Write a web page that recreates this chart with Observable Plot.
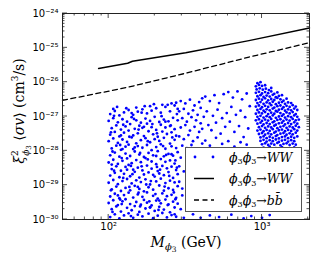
<!DOCTYPE html>
<html>
<head>
<meta charset="utf-8">
<script src="https://cdn.jsdelivr.net/npm/d3@7"></script>
<script src="https://cdn.jsdelivr.net/npm/@observablehq/plot@0.6"></script>
<style>
html,body{margin:0;padding:0;background:#fff;}
#chart svg{display:block;}
</style>
</head>
<body>
<div id="chart"></div>
<script>
// ---- data ----
// solid line: phi3 phi3 -> WW limit (mass in GeV, log10 of <sigma v>)
const solidMass = [86, 133, 143, 318, 822, 2040];
const solidLog  = [-25.60, -25.45, -25.39, -25.14, -24.79, -24.42];
// dashed line: phi3 phi3 -> b bbar limit
const dashedMass = [50, 133, 318, 822, 2040];
const dashedLog  = [-26.53, -26.15, -25.74, -25.27, -24.85];
// scan points: [log10 M, log10 (xi^2 <sigma v>)]
const scanPoints = [
2.01,-29.93,2.04,-29.85,2.07,-29.97,2.10,-29.88,2.13,-29.82,2.16,-29.95,2.19,-29.86,2.22,-29.91,2.26,-29.83,2.29,-29.96,2.32,-29.89,2.35,-29.81,2.38,-29.94,2.41,-29.87,2.44,-29.92,
2.02,-29.70,2.05,-29.62,2.08,-29.77,2.12,-29.66,2.15,-29.73,2.17,-29.61,2.20,-29.78,2.24,-29.68,2.27,-29.64,2.30,-29.75,2.33,-29.63,2.36,-29.71,2.40,-29.79,2.43,-29.65,
2.00,-29.52,2.03,-29.44,2.06,-29.58,2.09,-29.47,2.11,-29.41,2.14,-29.55,2.18,-29.49,2.21,-29.57,2.23,-29.43,2.25,-29.51,2.28,-29.59,2.31,-29.45,2.34,-29.53,2.37,-29.42,2.39,-29.56,2.42,-29.48,2.45,-29.54,
2.01,-29.33,2.04,-29.25,2.07,-29.38,2.10,-29.29,2.13,-29.22,2.16,-29.36,2.19,-29.27,2.22,-29.34,2.25,-29.21,2.29,-29.31,2.32,-29.39,2.35,-29.24,2.38,-29.32,2.41,-29.28,2.44,-29.37,
2.02,-29.12,2.05,-29.04,2.08,-29.17,2.11,-29.08,2.14,-29.15,2.17,-29.02,2.20,-29.11,2.23,-29.18,2.26,-29.06,2.29,-29.13,2.33,-29.01,2.36,-29.16,2.39,-29.09,2.42,-29.14,2.45,-29.03,
2.00,-28.93,2.03,-28.85,2.06,-28.97,2.09,-28.88,2.12,-28.82,2.15,-28.95,2.18,-28.86,2.21,-28.91,2.24,-28.83,2.27,-28.98,2.31,-28.89,2.34,-28.81,2.37,-28.94,2.40,-28.87,2.43,-28.92,
2.01,-28.72,2.04,-28.64,2.07,-28.77,2.10,-28.67,2.14,-28.74,2.17,-28.61,2.20,-28.78,2.23,-28.69,2.26,-28.63,2.30,-28.75,2.33,-28.66,2.36,-28.71,2.39,-28.62,2.42,-28.79,2.45,-28.68,
2.02,-28.53,2.05,-28.45,2.08,-28.58,2.11,-28.47,2.13,-28.41,2.16,-28.55,2.19,-28.49,2.22,-28.57,2.25,-28.43,2.28,-28.52,2.32,-28.59,2.35,-28.44,2.38,-28.51,2.41,-28.46,2.44,-28.56,
2.00,-28.34,2.03,-28.26,2.06,-28.38,2.09,-28.29,2.12,-28.22,2.15,-28.36,2.18,-28.27,2.21,-28.33,2.24,-28.21,2.28,-28.31,2.31,-28.39,2.34,-28.24,2.37,-28.32,2.40,-28.28,2.43,-28.37,
2.01,-28.13,2.04,-28.05,2.07,-28.17,2.11,-28.08,2.14,-28.15,2.17,-28.02,2.20,-28.11,2.23,-28.18,2.26,-28.06,2.29,-28.13,2.32,-28.01,2.36,-28.16,2.39,-28.09,2.42,-28.14,2.45,-28.04,
2.02,-27.93,2.05,-27.85,2.08,-27.97,2.11,-27.88,2.13,-27.82,2.16,-27.95,2.19,-27.86,2.22,-27.91,2.25,-27.83,2.28,-27.98,2.31,-27.89,2.34,-27.81,2.37,-27.94,2.41,-27.87,2.44,-27.92,
2.00,-27.72,2.03,-27.64,2.06,-27.77,2.09,-27.67,2.12,-27.74,2.15,-27.61,2.18,-27.78,2.21,-27.69,2.24,-27.63,2.27,-27.75,2.30,-27.66,2.33,-27.71,2.36,-27.62,2.40,-27.79,2.43,-27.68,
2.01,-27.53,2.04,-27.45,2.07,-27.58,2.10,-27.47,2.13,-27.41,2.16,-27.55,2.19,-27.49,2.23,-27.57,2.26,-27.43,2.29,-27.52,2.32,-27.59,2.35,-27.44,2.38,-27.51,2.41,-27.46,2.44,-27.56,
2.02,-27.34,2.05,-27.26,2.08,-27.38,2.11,-27.29,2.14,-27.22,2.17,-27.36,2.20,-27.27,2.22,-27.33,2.25,-27.21,2.28,-27.31,2.31,-27.39,2.34,-27.24,2.37,-27.32,2.40,-27.28,2.43,-27.37,
2.00,-27.13,2.03,-27.05,2.06,-27.17,2.09,-27.08,2.12,-27.15,2.15,-27.02,2.18,-27.11,2.21,-27.18,2.24,-27.06,2.27,-27.13,2.30,-27.01,2.33,-27.16,2.36,-27.09,2.39,-27.14,2.42,-27.04,2.45,-27.11,
2.01,-26.93,2.04,-26.84,2.07,-26.97,2.10,-26.88,2.13,-26.81,2.16,-26.95,2.19,-26.86,2.22,-26.79,2.25,-26.91,2.28,-26.83,2.31,-26.76,2.34,-26.89,2.37,-26.72,2.40,-26.85,2.43,-26.68,2.45,-26.78,
2.03,-26.78,2.18,-26.74,2.27,-26.70,2.35,-26.66,2.41,-26.62,
2.025,-29.78,2.085,-29.55,2.145,-29.90,2.205,-29.62,2.265,-29.47,2.325,-29.72,2.385,-29.58,2.435,-29.41,
2.015,-29.15,2.075,-29.42,2.135,-29.05,2.195,-29.22,2.245,-28.98,2.305,-29.26,2.365,-29.04,2.425,-29.21,
2.035,-28.58,2.095,-28.79,2.155,-28.68,2.215,-28.45,2.275,-28.88,2.335,-28.55,2.395,-28.73,2.445,-28.49,
2.025,-28.02,2.085,-28.21,2.145,-28.44,2.205,-28.06,2.255,-28.25,2.315,-28.47,2.375,-28.12,2.435,-28.28,
2.015,-27.46,2.075,-27.83,2.135,-27.59,2.195,-27.38,2.255,-27.72,2.315,-27.49,2.355,-27.86,2.415,-27.61,
2.035,-26.98,2.095,-27.24,2.165,-27.07,2.215,-26.89,2.285,-27.22,2.345,-26.99,2.405,-27.26,2.445,-26.93,
2.055,-26.72,2.115,-26.76,2.235,-26.70,2.295,-26.64,2.385,-26.66,2.440,-26.60,
2.06,-29.30,2.12,-28.55,2.17,-27.90,2.23,-27.30,2.29,-28.70,2.33,-29.45,2.41,-28.10,2.02,-28.40,2.08,-27.55,2.15,-26.90,2.27,-29.65,2.37,-27.15,2.43,-29.85,2.19,-29.05,2.31,-28.15,2.09,-27.95,
2.47,-26.55,2.50,-26.62,2.53,-26.51,2.56,-26.68,2.59,-26.58,2.61,-26.47,
2.46,-26.85,2.49,-26.78,2.52,-26.92,2.55,-26.82,2.58,-26.95,2.60,-26.75,
2.48,-27.05,2.51,-27.15,2.54,-27.02,2.57,-27.11,2.60,-27.20,2.62,-27.01,
2.47,-27.32,2.50,-27.25,2.53,-27.41,2.56,-27.30,2.59,-27.45,2.61,-27.36,
2.46,-27.58,2.49,-27.66,2.52,-27.54,2.55,-27.72,2.58,-27.61,2.61,-27.79,
2.48,-27.85,2.51,-27.92,2.54,-27.83,2.57,-27.95,
2.47,-28.20,2.49,-28.60,2.46,-28.90,2.48,-29.30,2.47,-29.70,2.49,-29.95,2.46,-28.45,2.48,-29.10,
2.63,-26.42,2.66,-26.55,2.69,-26.38,2.72,-26.61,2.75,-26.35,2.78,-26.29,2.81,-26.45,2.84,-26.27,2.87,-26.50,2.90,-26.33,
2.64,-26.85,2.68,-26.98,2.71,-26.80,2.74,-27.05,2.77,-26.90,2.80,-26.72,2.83,-26.95,2.86,-26.83,2.89,-27.02,2.92,-26.70,
2.65,-27.25,2.67,-27.40,2.70,-27.18,2.73,-27.50,2.76,-27.30,2.79,-27.15,2.82,-27.45,2.85,-27.28,2.88,-27.60,2.91,-27.35,
2.63,-27.70,2.66,-27.85,2.70,-27.62,2.74,-27.80,2.78,-27.72,2.82,-27.88,2.86,-27.75,2.90,-27.82,
2.55,-29.85,2.60,-29.95,2.66,-29.88,2.72,-29.93,2.80,-29.86,2.88,-29.97,2.93,-29.90,3.00,-29.95,3.05,-29.87,
2.97,-26.03,2.99,-26.00,
2.96,-26.12,2.98,-26.08,3.00,-26.11,3.02,-26.09,
2.965,-26.21,2.985,-26.18,3.005,-26.22,3.025,-26.19,3.045,-26.23,3.06,-26.17,
2.96,-26.31,2.98,-26.28,3.00,-26.33,3.02,-26.29,3.04,-26.32,3.06,-26.27,3.08,-26.34,3.10,-26.30,
2.97,-26.41,2.99,-26.38,3.01,-26.43,3.03,-26.39,3.05,-26.42,3.07,-26.37,3.09,-26.44,3.11,-26.40,3.13,-26.38,
2.96,-26.52,2.98,-26.48,3.00,-26.51,3.02,-26.47,3.04,-26.53,3.06,-26.49,3.08,-26.52,3.10,-26.46,3.12,-26.50,3.14,-26.54,3.16,-26.48,
2.97,-26.61,2.99,-26.58,3.01,-26.63,3.03,-26.59,3.05,-26.62,3.07,-26.57,3.09,-26.64,3.11,-26.60,3.13,-26.58,3.15,-26.63,3.17,-26.59,3.19,-26.61,
2.96,-26.71,2.98,-26.68,3.00,-26.73,3.02,-26.69,3.04,-26.72,3.06,-26.67,3.08,-26.74,3.10,-26.70,3.12,-26.68,3.14,-26.73,3.16,-26.69,3.18,-26.72,3.20,-26.67,3.22,-26.71,
2.97,-26.81,2.99,-26.78,3.01,-26.83,3.03,-26.79,3.05,-26.82,3.07,-26.77,3.09,-26.84,3.11,-26.80,3.13,-26.78,3.15,-26.83,3.17,-26.79,3.19,-26.82,3.21,-26.77,3.23,-26.81,
2.96,-26.92,2.98,-26.88,3.00,-26.91,3.02,-26.87,3.04,-26.93,3.06,-26.89,3.08,-26.92,3.10,-26.86,3.12,-26.90,3.14,-26.94,3.16,-26.88,3.18,-26.91,3.20,-26.87,3.22,-26.93,
2.97,-27.01,2.99,-26.98,3.01,-27.03,3.03,-26.99,3.05,-27.02,3.07,-26.97,3.09,-27.04,3.11,-27.00,3.13,-26.98,3.15,-27.03,3.17,-26.99,3.19,-27.02,3.21,-26.97,3.23,-27.01,
2.96,-27.11,2.98,-27.08,3.00,-27.13,3.02,-27.09,3.04,-27.12,3.06,-27.07,3.08,-27.14,3.10,-27.10,3.12,-27.08,3.14,-27.13,3.16,-27.09,3.18,-27.12,3.20,-27.07,3.22,-27.11,3.24,-27.09,
2.97,-27.21,2.99,-27.18,3.01,-27.23,3.03,-27.19,3.05,-27.22,3.07,-27.17,3.09,-27.24,3.11,-27.20,3.13,-27.18,3.15,-27.23,3.17,-27.19,3.19,-27.22,3.21,-27.17,3.23,-27.21,
2.98,-27.31,3.00,-27.28,3.02,-27.33,3.04,-27.29,3.06,-27.32,3.08,-27.27,3.10,-27.34,3.12,-27.30,3.14,-27.28,3.16,-27.33,3.18,-27.29,3.20,-27.32,3.22,-27.27,3.24,-27.31,
2.97,-27.41,2.99,-27.38,3.01,-27.43,3.03,-27.39,3.05,-27.42,3.07,-27.37,3.09,-27.44,3.11,-27.40,3.13,-27.38,3.15,-27.43,3.17,-27.39,3.19,-27.42,3.21,-27.37,3.23,-27.41,
2.98,-27.51,3.00,-27.48,3.02,-27.53,3.04,-27.49,3.06,-27.52,3.08,-27.47,3.10,-27.54,3.12,-27.50,3.14,-27.48,3.16,-27.53,3.18,-27.49,3.20,-27.52,3.22,-27.47,
2.99,-27.61,3.01,-27.58,3.03,-27.63,3.05,-27.59,3.07,-27.62,3.09,-27.57,3.11,-27.64,3.13,-27.60,3.15,-27.58,3.17,-27.63,3.19,-27.59,3.21,-27.62,3.23,-27.58,
2.99,-27.71,3.01,-27.68,3.03,-27.73,3.05,-27.69,3.07,-27.72,3.09,-27.67,3.11,-27.74,3.13,-27.70,3.15,-27.68,3.17,-27.73,3.19,-27.69,3.21,-27.72,
3.00,-27.81,3.02,-27.78,3.04,-27.83,3.06,-27.79,3.08,-27.82,3.10,-27.77,3.12,-27.84,3.14,-27.80,3.16,-27.78,3.18,-27.83,3.20,-27.79,3.22,-27.82,
3.01,-27.91,3.05,-27.88,3.09,-27.92,3.13,-27.89,3.17,-27.93,3.21,-27.90
];
const yTickExps = [-30, -29, -28, -27, -26, -25, -24];
const xTickExps = [2, 3];
const legendLabels = ["WW", "WW", "bb̄"];

// ---- build tables ----
const scan = [];
for (let i = 0; i < scanPoints.length; i += 2) scan.push({m: 10 ** scanPoints[i], v: 10 ** scanPoints[i + 1]});
const solid = solidMass.map((m, i) => ({m, v: 10 ** solidLog[i]}));
const dashed = dashedMass.map((m, i) => ({m, v: 10 ** dashedLog[i]}));

const sup = {"-": "⁻", "0": "⁰", "1": "¹", "2": "²", "3": "³", "4": "⁴", "5": "⁵", "6": "⁶", "7": "⁷", "8": "⁸", "9": "⁹"};
const pow10 = e => "10" + String(e).split("").map(c => sup[c]).join("");

const plot = Plot.plot({
  width: 317, height: 264,
  marginLeft: 62, marginRight: 8, marginTop: 13, marginBottom: 45,
  style: {fontFamily: "DejaVu Sans", fontSize: "10px", color: "#000", background: "#fff"},
  x: {type: "log", domain: [50, 2040]},
  y: {type: "log", domain: [1e-30, 1e-24]},
  marks: [
    Plot.dot(scan, {x: "m", y: "v", r: 1.4, fill: "#0000ff", stroke: null}),
    Plot.line(solid, {x: "m", y: "v", stroke: "#000", strokeWidth: 1.5}),
    Plot.line(dashed, {x: "m", y: "v", stroke: "#000", strokeWidth: 1.3, strokeDasharray: "5,3.5"}),
    Plot.frame({stroke: "#222", strokeWidth: 1}),
    Plot.axisY(yTickExps.map(e => 10 ** e), {tickSize: 0, tickPadding: 4, tickFormat: v => pow10(Math.round(Math.log10(v))), fontSize: 10, label: null}),
    Plot.axisX(xTickExps.map(e => 10 ** e), {tickSize: 0, tickPadding: 3, tickFormat: v => pow10(Math.round(Math.log10(v))), fontSize: 10, label: null})
  ]
});
document.getElementById("chart").appendChild(plot);

// ---- inward ticks on all four sides using the plot scales ----
const sx = plot.scale("x"), sy = plot.scale("y");
const svg = d3.select(plot);
const L = 62, R = 317 - 8, T = 13, B = 264 - 45;
const tg = svg.append("g").attr("stroke", "#222").attr("stroke-width", 0.8);
const xMinor = [], yMinor = [];
for (const e of [1, 2, 3]) for (let k = 2; k <= 9; k++) { const v = k * 10 ** e; if (v > 50 && v < 2040) xMinor.push(v); }
for (const e of d3.range(-30, -24)) for (let k = 2; k <= 9; k++) yMinor.push(k * 10 ** e);
function xt(v, len) { const x = sx.apply(v); tg.append("line").attr("x1", x).attr("x2", x).attr("y1", B).attr("y2", B - len); tg.append("line").attr("x1", x).attr("x2", x).attr("y1", T).attr("y2", T + len); }
function yt(v, len) { const y = sy.apply(v); tg.append("line").attr("y1", y).attr("y2", y).attr("x1", L).attr("x2", L + len); tg.append("line").attr("y1", y).attr("y2", y).attr("x1", R).attr("x2", R - len); }
xTickExps.forEach(e => xt(10 ** e, 5)); xMinor.forEach(v => xt(v, 2.5));
yTickExps.forEach(e => yt(10 ** e, 5)); yMinor.forEach(v => yt(v, 2.5));

// ---- axis titles ----
const serif = "'DejaVu Serif', 'Liberation Serif', serif";
const xl = svg.append("text").attr("x", 186).attr("y", 247).attr("text-anchor", "middle")
  .attr("font-family", serif).attr("font-size", 14).attr("fill", "#000");
xl.append("tspan").attr("font-style", "italic").text("M");
xl.append("tspan").attr("font-style", "italic").attr("font-size", 10).attr("dy", 3).text("ϕ");
xl.append("tspan").attr("font-size", 7.5).attr("dy", 1.5).text("3");
xl.append("tspan").attr("dy", -4.5).text(" (GeV)");

const yl = svg.append("text").attr("transform", "translate(24,111) rotate(-90)").attr("text-anchor", "middle")
  .attr("font-family", serif).attr("font-size", 14).attr("fill", "#000");
yl.append("tspan").attr("font-style", "italic").text("ξ");
yl.append("tspan").attr("font-size", 9).attr("dy", -6).text("2");
yl.append("tspan").attr("font-size", 9).attr("font-style", "italic").attr("dx", -5.5).attr("dy", 11).text("ϕ");
yl.append("tspan").attr("font-size", 7).attr("dy", 1.5).text("3");
yl.append("tspan").attr("dy", -6.5).text(" ⟨");
yl.append("tspan").attr("font-style", "italic").text("σv");
yl.append("tspan").text("⟩ (cm");
yl.append("tspan").attr("font-size", 9).attr("dy", -6).text("3");
yl.append("tspan").attr("dy", 6).text("/s)");

// ---- legend ----
const lg = svg.append("g").attr("text-anchor", "start");
lg.append("rect").attr("x", 185.5).attr("y", 147.5).attr("width", 116).attr("height", 64)
  .attr("fill", "#fff").attr("stroke", "#555").attr("stroke-width", 1);
const rows = [157, 178.5, 200];
lg.append("circle").attr("cx", 195).attr("cy", rows[0]).attr("r", 1.4).attr("fill", "#0000ff");
lg.append("circle").attr("cx", 213).attr("cy", rows[0]).attr("r", 1.4).attr("fill", "#0000ff");
lg.append("line").attr("x1", 194).attr("x2", 214).attr("y1", rows[1]).attr("y2", rows[1]).attr("stroke", "#000").attr("stroke-width", 1.5);
lg.append("line").attr("x1", 194).attr("x2", 214).attr("y1", rows[2]).attr("y2", rows[2]).attr("stroke", "#000").attr("stroke-width", 1.3).attr("stroke-dasharray", "5,3.5");
legendLabels.forEach((lab, i) => {
  const t = lg.append("text").attr("x", 229).attr("y", rows[i] + 4.5).attr("text-anchor", "start")
    .attr("font-family", serif).attr("font-size", 12.5).attr("fill", "#000");
  t.append("tspan").attr("font-style", "italic").text("ϕ");
  t.append("tspan").attr("font-size", 8).attr("dy", 2.5).text("3");
  t.append("tspan").attr("font-style", "italic").attr("dy", -2.5).text("ϕ");
  t.append("tspan").attr("font-size", 8).attr("dy", 2.5).text("3");
  t.append("tspan").attr("dy", -2.5).text("→");
  t.append("tspan").attr("font-style", "italic").text(lab);
});
</script>
</body>
</html>
